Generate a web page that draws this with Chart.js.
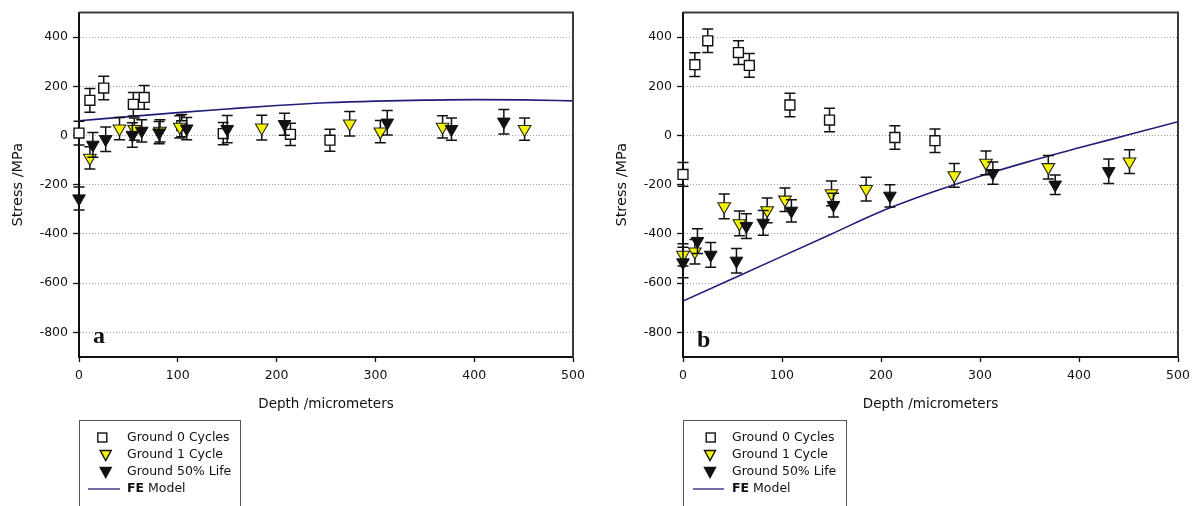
<!DOCTYPE html>
<html><head><meta charset="utf-8">
<script src="https://cdn.jsdelivr.net/npm/chart.js@4.4.0/dist/chart.umd.min.js"></script>
<style>
html,body{margin:0;padding:0;background:#fff;}
#wrap{display:flex;width:1196px;height:506px;}
.box{position:relative;width:598px;height:506px;}
canvas{display:block;}
</style></head><body>
<div id="wrap"><div class="box"><canvas id="ca" width="598" height="506"></canvas></div><div class="box"><canvas id="cb" width="598" height="506"></canvas></div></div>
<script>
// ---------- data ----------
const xTicks = [0, 100, 200, 300, 400, 500];
const yTicks = [400, 200, 0, -200, -400, -600, -800];
const seriesNames = ['Ground 0 Cycles', 'Ground 1 Cycle', 'Ground 50% Life', 'FE Model'];

// panel a
const aSq0X = [0, 11, 25, 55, 66, 104, 146, 214, 254];
const aSq0Y = [10, 143, 193, 127, 155, 40, 8, 5, -19];
const aSq0E = [48, 48, 48, 48, 48, 45, 45, 45, 45];
const aY1X = [11, 41, 56, 82, 102, 185, 274, 305, 368, 451];
const aY1Y = [-91, 28, 26, 19, 35, 32, 48, 16, 35, 26];
const aY1E = [45, 45, 45, 45, 45, 50, 50, 45, 45, 45];
const aB50X = [0, 14, 27, 54, 63.5, 81, 109, 150, 208, 312, 377, 430];
const aB50Y = [-256, -38, -15, 2, 19, 12, 28, 26, 46, 52, 26, 56];
const aB50E = [47, 50, 50, 50, 45, 45, 45, 55, 45, 50, 45, 50];
const aFeX = [0, 50, 100, 150, 200, 250, 300, 350, 400, 450, 500];
const aFeY = [60, 77, 93, 108, 122, 133, 140, 144, 146, 145, 141];

// panel b
const bSq0X = [0, 12, 25, 56, 67, 108, 148, 214, 254.5];
const bSq0Y = [-158, 288, 385, 337, 285, 124, 63, -8, -21];
const bSq0E = [48, 48, 48, 48, 48, 48, 48, 48, 48];
const bY1X = [0, 12, 41.6, 57, 85, 103, 150, 185, 274, 306, 369, 451];
const bY1Y = [-485, -472, -288, -357, -304, -261, -235, -218, -162, -111, -129, -106];
const bY1E = [45, 50, 50, 50, 50, 48, 50, 48, 48, 48, 48, 48];
const bB50X = [0, 14.6, 28, 54, 64, 81, 109.5, 152, 209, 313, 376, 430];
const bB50Y = [-516, -429, -485, -509, -368, -355, -306, -283, -245, -153, -200, -145];
const bB50E = [62, 50, 50, 50, 50, 50, 45, 48, 45, 45, 40, 50];
const bFeX = [0, 50, 100, 150, 200, 250, 300, 350, 400, 450, 500];
const bFeY = [-673, -582, -491, -400, -309, -233, -165, -105, -50, 3, 56];

// ---------- styling ----------
const FONT = 'DejaVu Sans';
const INK = '#111';
const NAVY = '#1f1f7a';
const YELLOW = '#f4f400';
Chart.defaults.font.family = FONT;
Chart.defaults.color = INK;

const pts = (xs, ys) => xs.map((x, i) => ({x: x, y: ys[i]}));

const errorBars = {
  id: 'errorBars',
  beforeDatasetDraw(chart, args) {
    const ds = chart.data.datasets[args.index];
    if (!ds.errors) return;
    const ys = chart.scales.y, ctx = chart.ctx;
    ctx.save();
    ctx.strokeStyle = '#111';
    ctx.lineWidth = 1.5;
    args.meta.data.forEach((el, i) => {
      const v = ds.data[i].y, e = ds.errors[i];
      const t = ys.getPixelForValue(v + e), b = ys.getPixelForValue(v - e);
      const x = el.x;
      ctx.beginPath();
      ctx.moveTo(x, t); ctx.lineTo(x, b);
      ctx.moveTo(x - 5.5, t); ctx.lineTo(x + 5.5, t);
      ctx.moveTo(x - 5.5, b); ctx.lineTo(x + 5.5, b);
      ctx.stroke();
    });
    ctx.restore();
  }
};

const decor = {
  id: 'decor',
  afterDraw(chart, args, opts) {
    const ctx = chart.ctx, a = chart.chartArea;
    ctx.save();
    ctx.strokeStyle = '#3a3a3a';
    ctx.lineWidth = 2;
    ctx.beginPath();
    ctx.moveTo(a.left, a.top); ctx.lineTo(a.right, a.top); ctx.lineTo(a.right, a.bottom);
    ctx.stroke();
    ctx.fillStyle = '#111';
    ctx.font = 'bold 24px "Liberation Serif", "DejaVu Serif", serif';
    ctx.textBaseline = 'alphabetic';
    ctx.textAlign = 'left';
    ctx.fillText(opts.letter, opts.letterX, opts.letterY);
    const L = opts.legend;
    ctx.strokeStyle = '#555';
    ctx.lineWidth = 1;
    ctx.strokeRect(L.x + 0.5, L.y + 0.5, L.w, 140);
    const rows = [L.y + 17.5, L.y + 35, L.y + 52, L.y + 69];
    ctx.font = '12.5px "' + FONT + '"';
    ctx.fillStyle = INK;
    ctx.textBaseline = 'middle';
    ctx.fillText(seriesNames[0], L.tx, rows[0]);
    ctx.fillText(seriesNames[1], L.tx, rows[1]);
    ctx.fillText(seriesNames[2], L.tx, rows[2]);
    ctx.font = 'bold 12.5px "' + FONT + '"';
    const feW = ctx.measureText('FE').width;
    ctx.fillText('FE', L.tx, rows[3]);
    ctx.font = '12.5px "' + FONT + '"';
    ctx.fillText(seriesNames[3].slice(2), L.tx + feW, rows[3]);
    ctx.lineWidth = 1.4;
    ctx.strokeStyle = '#111';
    ctx.fillStyle = '#fff';
    ctx.fillRect(L.sqx - 4.5, rows[0] - 4.5, 9, 9);
    ctx.strokeRect(L.sqx - 4.5, rows[0] - 4.5, 9, 9);
    const tri = (cx, cy, fill) => {
      ctx.beginPath();
      ctx.moveTo(cx - 5.5, cy - 4.5); ctx.lineTo(cx + 5.5, cy - 4.5); ctx.lineTo(cx, cy + 5.5); ctx.closePath();
      ctx.fillStyle = fill; ctx.fill(); ctx.stroke();
    };
    tri(L.trx, rows[1], YELLOW);
    tri(L.trx, rows[2], '#111');
    ctx.strokeStyle = NAVY;
    ctx.lineWidth = 1.3;
    ctx.beginPath();
    ctx.moveTo(L.lx1, rows[3]); ctx.lineTo(L.lx2, rows[3]);
    ctx.stroke();
    ctx.restore();
  }
};

function makeChart(id, d, cfg) {
  const datasets = [
    {label: seriesNames[0], data: pts(d.sqX, d.sqY), errors: d.sqE, pointStyle: 'rect', pointRadius: 7,
     backgroundColor: '#fff', borderColor: '#111', borderWidth: 1.4, order: 3, clip: false},
    {label: seriesNames[1], data: pts(d.y1X, d.y1Y), errors: d.y1E, pointStyle: 'triangle', rotation: 180, pointRadius: 7.3,
     backgroundColor: YELLOW, borderColor: '#222', borderWidth: 1.1, order: 2, clip: false},
    {label: seriesNames[2], data: pts(d.bX, d.bY), errors: d.bE, pointStyle: 'triangle', rotation: 180, pointRadius: 7.3,
     backgroundColor: '#111', borderColor: '#111', borderWidth: 1, order: 1, clip: false},
    {type: 'line', label: seriesNames[3], data: pts(d.feX, d.feY), showLine: true, pointRadius: 0, borderColor: NAVY,
     borderWidth: 1.6, cubicInterpolationMode: 'monotone', order: 4, fill: false}
  ];
  return new Chart(document.getElementById(id), {
    type: 'scatter',
    data: {datasets},
    plugins: [errorBars, decor],
    options: {
      responsive: false, animation: false, devicePixelRatio: 1,
      layout: {padding: {left: 0, top: 11, right: cfg.padRight, bottom: 0}},
      plugins: {legend: {display: false}, tooltip: {enabled: false}, decor: cfg.decor},
      scales: {
        x: {
          type: 'linear', min: 0, max: 500,
          afterBuildTicks: s => { s.ticks = xTicks.map(v => ({value: v})); },
          afterFit: s => { s.height = 149; },
          grid: {drawOnChartArea: false, tickColor: INK, tickLength: 5, tickWidth: 1.3},
          border: {color: INK, width: 2},
          ticks: {font: {size: 12.5}, padding: 6, color: INK, maxRotation: 0},
          title: {display: true, text: 'Depth /micrometers', font: {size: 13.5}, color: INK, padding: {top: 0, bottom: 93}}
        },
        y: {
          type: 'linear', min: -900, max: 500,
          afterBuildTicks: s => { s.ticks = yTicks.map(v => ({value: v})); },
          afterFit: s => { s.width = cfg.yWidth; },
          grid: {color: '#a0a0a0', lineWidth: 1, tickColor: INK, tickLength: 6, tickWidth: 1.3},
          border: {color: INK, width: 2, dash: [1, 2]},
          ticks: {font: {size: 12.5}, padding: 5, color: INK},
          title: {display: true, text: 'Stress /MPa', font: {size: 14.5}, color: INK, padding: {top: cfg.yTitlePad, bottom: 0}}
        }
      }
    }
  });
}

makeChart('ca',
  {sqX: aSq0X, sqY: aSq0Y, sqE: aSq0E, y1X: aY1X, y1Y: aY1Y, y1E: aY1E, bX: aB50X, bY: aB50Y, bE: aB50E, feX: aFeX, feY: aFeY},
  {padRight: 25, yWidth: 79, yTitlePad: 10,
   decor: {letter: 'a', letterX: 93, letterY: 343,
           legend: {x: 79, y: 420, w: 161, tx: 127, sqx: 102.3, trx: 105.7, lx1: 88, lx2: 120}}});

makeChart('cb',
  {sqX: bSq0X, sqY: bSq0Y, sqE: bSq0E, y1X: bY1X, y1Y: bY1Y, y1E: bY1E, bX: bB50X, bY: bB50Y, bE: bB50E, feX: bFeX, feY: bFeY},
  {padRight: 18, yWidth: 85, yTitlePad: 16,
   decor: {letter: 'b', letterX: 99, letterY: 347,
           legend: {x: 85, y: 420, w: 163, tx: 134, sqx: 112.7, trx: 112, lx1: 95, lx2: 126}}});
</script>
</body></html>
